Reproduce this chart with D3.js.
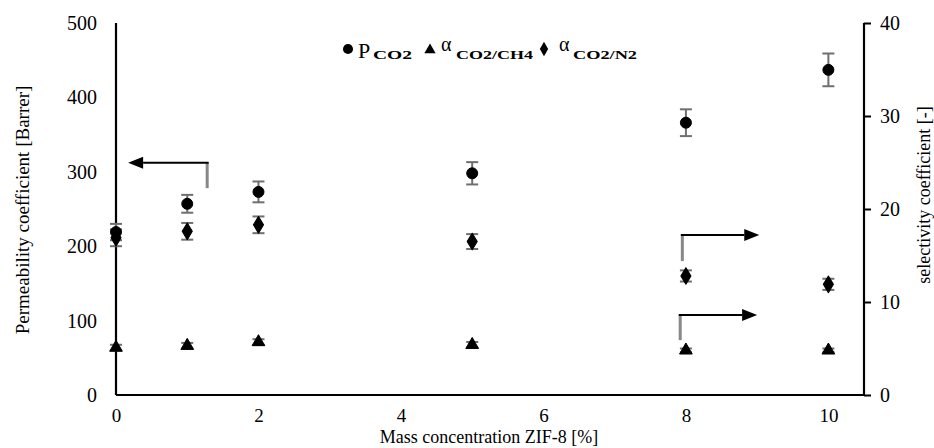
<!DOCTYPE html>
<html><head><meta charset="utf-8">
<script src="https://cdn.jsdelivr.net/npm/d3@7"></script>
<style>body{margin:0;background:#fff}svg{display:block}text{font-family:"Liberation Serif","Times New Roman",serif;fill:#000}</style>
</head><body>
<svg id="c" width="934" height="448"></svg>
<script>
// ---- data ----
const zif = [0, 1, 2, 5, 8, 10];
const pCO2 = [219, 257, 273, 298, 366, 437];
const pCO2Err = [11, 12, 14, 15, 18, 22];
const aCH4 = [5.1, 5.3, 5.7, 5.4, 4.8, 4.8];
const aCH4Err = [0.3, 0.3, 0.3, 0.3, 0.2, 0.2];
const aN2 = [16.9, 17.6, 18.3, 16.5, 12.8, 11.9];
const aN2Err = [0.9, 0.9, 0.9, 0.8, 0.6, 0.6];
const xTicks = [0, 2, 4, 6, 8, 10];
const yLeftTicks = [0, 100, 200, 300, 400, 500];
const yRightTicks = [0, 10, 20, 30, 40];

const svg = d3.select("#c");
const x = d3.scaleLinear().domain([0, 10.5]).range([116, 864]);
const yL = d3.scaleLinear().domain([0, 500]).range([395, 23]);
const yR = d3.scaleLinear().domain([0, 40]).range([395, 23]);

// axes
const gx = svg.append("g").attr("transform", "translate(0,395)")
  .call(d3.axisBottom(x).tickValues(xTicks).tickSize(0).tickPadding(14).tickFormat(d3.format("d")));
const gl = svg.append("g").attr("transform", "translate(116,0)")
  .call(d3.axisLeft(yL).tickValues(yLeftTicks).tickSize(0).tickPadding(19));
const gr = svg.append("g").attr("transform", "translate(864,0)")
  .call(d3.axisRight(yR).tickValues(yRightTicks).tickSize(7).tickPadding(9));
[gx, gl, gr].forEach(g => {
  g.select(".domain").attr("stroke", "#000").attr("stroke-width", 2.2);
  g.selectAll(".tick line").attr("stroke", "#000").attr("stroke-width", 2);
  g.selectAll(".tick text").style("font-family", '"Liberation Serif",serif').style("font-size", "20px").attr("fill", "#000");
});
gx.selectAll(".tick text").style("font-size", "19px");
gx.select(".domain").attr("d", "M116,0H864");
gl.select(".domain").attr("d", "M0,23V395");
gr.select(".domain").attr("d", "M0,23V395");

// axis titles
svg.append("text").attr("transform", "translate(29,210) rotate(-90)").attr("text-anchor", "middle")
  .style("font-size", "19px").text("Permeability coefficient [Barrer]");
svg.append("text").attr("transform", "translate(930,195) rotate(-90)").attr("text-anchor", "middle")
  .style("font-size", "18px").text("selectivity coefficient [-]");
svg.append("text").attr("x", 489).attr("y", 443).attr("text-anchor", "middle")
  .style("font-size", "18px").text("Mass concentration ZIF-8 [%]");

// series
const series = [
  {vals: pCO2, err: pCO2Err, y: yL, sym: d3.symbolCircle, size: 95},
  {vals: aCH4, err: aCH4Err, y: yR, sym: d3.symbolTriangle, size: 70},
  {vals: aN2, err: aN2Err, y: yR, sym: d3.symbolDiamond, size: 80}
];
const eb = svg.append("g").attr("stroke", "#6f6f6f").attr("stroke-width", 2);
series.forEach(s => {
  zif.forEach((z, i) => {
    const cx = x(z), y1 = s.y(s.vals[i] + s.err[i]), y0 = s.y(s.vals[i] - s.err[i]);
    eb.append("line").attr("x1", cx).attr("x2", cx).attr("y1", y1).attr("y2", y0);
    eb.append("line").attr("x1", cx - 6).attr("x2", cx + 6).attr("y1", y1).attr("y2", y1);
    eb.append("line").attr("x1", cx - 6).attr("x2", cx + 6).attr("y1", y0).attr("y2", y0);
  });
});
series.forEach(s => {
  svg.append("g").selectAll("path").data(zif).join("path")
    .attr("d", d3.symbol(s.sym, s.size))
    .attr("transform", (z, i) => `translate(${x(z)},${s.y(s.vals[i])})` + (s.sym === d3.symbolDiamond ? " scale(1.05,1)" : ""))
    .attr("fill", "#000").attr("stroke", "#000").attr("stroke-width", 1).attr("stroke-linejoin", "round");
});

// annotation arrows
function arrow(yS, xStart, xTip, yLine, yFoot) {
  svg.append("line").attr("x1", x(xStart)).attr("x2", x(xStart)).attr("y1", yS(yLine)).attr("y2", yS(yFoot))
    .attr("stroke", "#888").attr("stroke-width", 3);
  const dir = xTip > xStart ? 1 : -1;
  const tip = x(xTip), base = tip - dir * 15;
  svg.append("line").attr("x1", x(xStart) - dir * 1.5).attr("x2", base).attr("y1", yS(yLine)).attr("y2", yS(yLine))
    .attr("stroke", "#000").attr("stroke-width", 2);
  svg.append("path").attr("d", `M${tip},${yS(yLine)}L${base},${yS(yLine) - 6}L${base},${yS(yLine) + 6}Z`).attr("fill", "#000");
}
arrow(yL, 1.28, 0.17, 312, 278);
arrow(yR, 7.95, 9.03, 17.2, 14.4);
arrow(yR, 7.92, 9.0, 8.6, 5.9);

// legend
const lg = svg.append("g");
lg.append("path").attr("d", d3.symbol(d3.symbolCircle, 80)).attr("transform", "translate(348,49)");
lg.append("text").attr("x", 358).attr("y", 58).style("font-size", "22px").text("P");
lg.append("text").attr("x", 373).attr("y", 59).style("font-size", "13px").style("font-weight", "bold")
  .attr("textLength", 39).attr("lengthAdjust", "spacingAndGlyphs").text("CO2");
lg.append("path").attr("d", d3.symbol(d3.symbolTriangle, 55)).attr("transform", "translate(430,50)");
lg.append("text").attr("x", 441).attr("y", 51).style("font-size", "20px").text("α");
lg.append("text").attr("x", 456).attr("y", 59).style("font-size", "13px").style("font-weight", "bold")
  .attr("textLength", 77).attr("lengthAdjust", "spacingAndGlyphs").text("CO2/CH4");
lg.append("path").attr("d", d3.symbol(d3.symbolDiamond, 60)).attr("transform", "translate(544,49)");
lg.append("text").attr("x", 559).attr("y", 51).style("font-size", "20px").text("α");
lg.append("text").attr("x", 573).attr("y", 59).style("font-size", "13px").style("font-weight", "bold")
  .attr("textLength", 64).attr("lengthAdjust", "spacingAndGlyphs").text("CO2/N2");
</script>
</body></html>
